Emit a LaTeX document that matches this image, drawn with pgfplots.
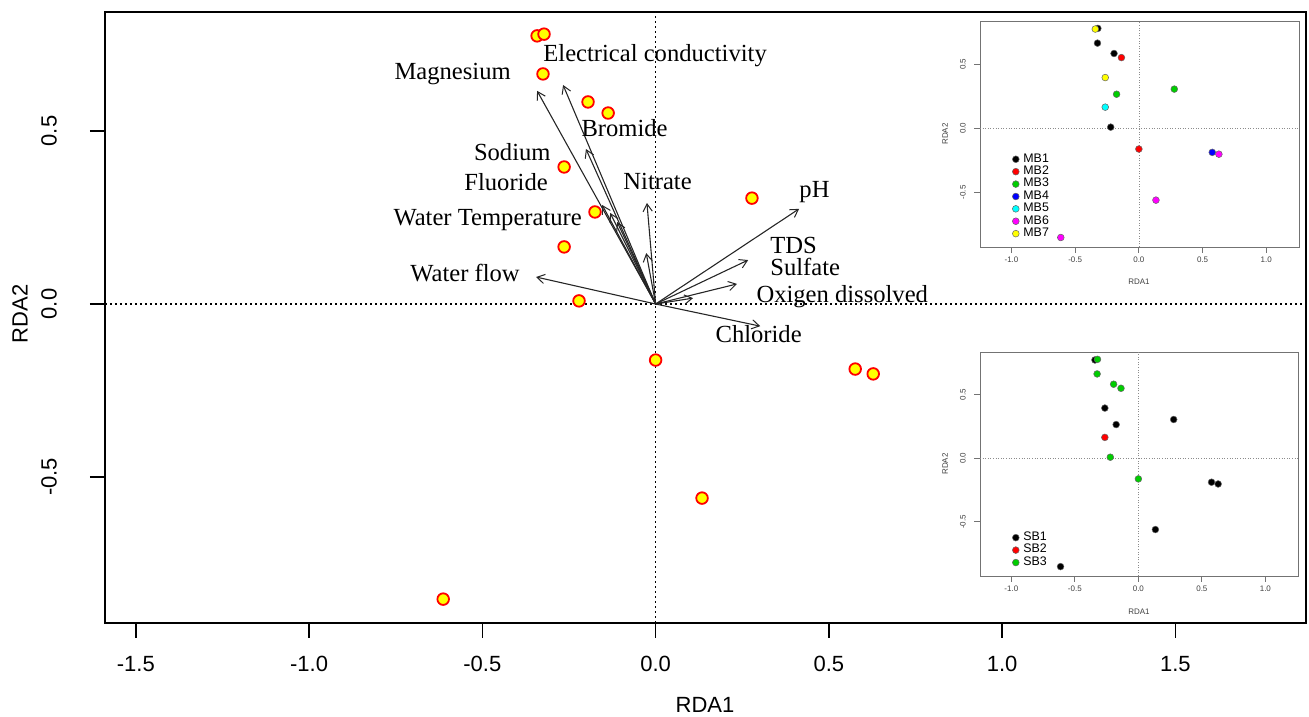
\documentclass[border=0pt]{standalone}
\usepackage{fontspec}
\setmainfont{Liberation Serif}
\newfontfamily\arialf{Liberation Sans}
\usepackage{pgfplots}
\pgfplotsset{compat=1.18}
\usetikzlibrary{arrows.meta}
\definecolor{rgreen}{RGB}{0,205,0}
\definecolor{rred}{RGB}{255,0,0}
\definecolor{rblue}{RGB}{0,0,255}
\definecolor{rcyan}{RGB}{0,255,255}
\definecolor{rmagenta}{RGB}{255,0,255}
\definecolor{ryellow}{RGB}{255,255,0}

\tikzset{lab/.style={font=\fontsize{12.3}{14}\selectfont,inner sep=0pt}}
\pgfplotsset{
  rnum/.style={/pgf/number format/fixed,/pgf/number format/fixed zerofill,
    /pgf/number format/precision=1,/pgf/number format/assume math mode=true},
  arr/.style={black!85,line width=0.55pt,
    -{Straight Barb[length=3.8pt,width=4.6pt,line width=0.5pt]}},
  inset/.style={scale only axis,anchor=south west,
    xmin=-1.247,xmax=1.257,ymin=-0.927,ymax=0.838,
    axis line style={black!55,line width=0.4pt},
    tick pos=left,tick align=outside,major tick length=3pt,
    every tick/.style={black!55,line width=0.4pt},
    xtick={-1,-0.5,0,0.5,1},ytick={-0.5,0,0.5},
    tick label style={font=\arialf\fontsize{4}{5}\selectfont,rnum,inner sep=0.5pt,text=black!75},
    xticklabel shift=1.5pt,
    yticklabel style={rotate=90,anchor=south},
    yticklabel shift=3.5pt,
    legend style={draw=none,fill=none,inner sep=0pt,
      font=\arialf\fontsize{6.2}{6.2}\selectfont,
      at={(axis description cs:0,0)},anchor=south west,xshift=16pt,yshift=3pt,
      nodes={inner sep=0.6pt},row sep=-0.8pt,column sep=1.5pt},
    legend cell align=left,
    legend image code/.code={\draw[##1] plot coordinates {(0pt,0pt)};},
  },
  ipt/.style={only marks,mark=*,mark size=1.7pt,
    mark options={draw=black!60,line width=0.25pt,fill=#1}},
}

\begin{document}
\begin{tikzpicture}
\useasboundingbox (-52.5pt,-46.5pt) rectangle (602pt,311.5pt);

% main RDA biplot
\begin{axis}[
  at={(0pt,0pt)},anchor=south west,scale only axis,
  width=600.5pt,height=305.5pt,
  xmin=-1.589,xmax=1.877,ymin=-0.922,ymax=0.844,
  axis line style={line width=0.8pt},
  tick pos=left,tick align=outside,major tick length=7.5pt,
  every tick/.style={black,line width=0.8pt},
  xtick={-1.5,-1,-0.5,0,0.5,1,1.5},ytick={-0.5,0,0.5},
  tick label style={font=\arialf\fontsize{11}{13}\selectfont,rnum},
  xticklabel shift=5.5pt,
  yticklabel style={rotate=90,anchor=south},
  yticklabel shift=13pt,
  clip=false,
]
\addplot[black,line width=0.8pt,dash pattern=on 0.9pt off 1.6pt] coordinates {(0,-0.922) (0,0.844)};
\addplot[black,line width=0.8pt,dash pattern=on 0.9pt off 1.6pt] coordinates {(-1.589,0) (1.877,0)};

% environmental arrows
\addplot[arr] coordinates {(0,0) (-0.342,0.616)};
\addplot[arr] coordinates {(0,0) (-0.267,0.633)};
\addplot[arr] coordinates {(0,0) (-0.201,0.448)};
\addplot[arr] coordinates {(0,0) (-0.154,0.286)};
\addplot[arr] coordinates {(0,0) (-0.131,0.263)};
\addplot[arr] coordinates {(0,0) (-0.111,0.237)};
\addplot[arr] coordinates {(0,0) (-0.025,0.292)};
\addplot[arr] coordinates {(0,0) (-0.027,0.147)};
\addplot[arr] coordinates {(0,0) (-0.345,0.078)};
\addplot[arr] coordinates {(0,0) (0.414,0.275)};
\addplot[arr] coordinates {(0,0) (0.267,0.127)};
\addplot[arr] coordinates {(0,0) (0.235,0.058)};
\addplot[arr] coordinates {(0,0) (0.108,0.017)};
\addplot[arr] coordinates {(0,0) (0.302,-0.064)};

% sites
\addplot[only marks,mark=*,mark size=2.9pt,mark options={fill=ryellow,draw=rred,line width=0.9pt}]
  coordinates {(-0.342,0.775) (-0.322,0.780) (-0.325,0.665) (-0.195,0.584) (-0.137,0.552)
  (-0.264,0.396) (-0.175,0.266) (0.278,0.306) (-0.264,0.165) (-0.221,0.009)
  (0,-0.162) (0.576,-0.188) (0.628,-0.202) (0.134,-0.561) (-0.613,-0.853)};

\node[lab,anchor=base west] at (axis cs:-0.325,0.700) {Electrical conductivity};
\node[lab,anchor=base east] at (axis cs:-0.417,0.648) {Magnesium};
\node[lab,anchor=base west] at (axis cs:-0.215,0.483) {Bromide};
\node[lab,anchor=base east] at (axis cs:-0.302,0.416) {Sodium};
\node[lab,anchor=base east] at (axis cs:-0.310,0.327) {Fluoride};
\node[lab,anchor=base west] at (axis cs:-0.094,0.330) {Nitrate};
\node[lab,anchor=base east] at (axis cs:-0.212,0.226) {Water Temperature};
\node[lab,anchor=base west] at (axis cs:0.414,0.309) {pH};
\node[lab,anchor=base west] at (axis cs:0.330,0.145) {TDS};
\node[lab,anchor=base west] at (axis cs:0.330,0.081) {Sulfate};
\node[lab,anchor=base west] at (axis cs:0.290,0.003) {Oxigen dissolved};
\node[lab,anchor=base west] at (axis cs:0.172,-0.112) {Chloride};
\node[lab,anchor=base east] at (axis cs:-0.391,0.064) {Water flow};
\end{axis}

% inset: MB groups
\begin{axis}[inset,at={(437.5pt,188pt)},width=159.5pt,height=113pt]
\addplot[black!45,line width=0.3pt,dash pattern=on 0.5pt off 0.8pt,forget plot] coordinates {(0,-0.927) (0,0.838)};
\addplot[black!45,line width=0.3pt,dash pattern=on 0.5pt off 0.8pt,forget plot] coordinates {(-1.247,0) (1.257,0)};
\addplot[ipt=black] coordinates {(-0.322,0.780) (-0.325,0.665) (-0.195,0.584) (-0.221,0.009)};
\addlegendentry{MB1}
\addplot[ipt=rred] coordinates {(-0.137,0.552) (0,-0.162)};
\addlegendentry{MB2}
\addplot[ipt=rgreen] coordinates {(-0.175,0.266) (0.278,0.306)};
\addlegendentry{MB3}
\addplot[ipt=rblue] coordinates {(0.576,-0.188)};
\addlegendentry{MB4}
\addplot[ipt=rcyan] coordinates {(-0.264,0.165)};
\addlegendentry{MB5}
\addplot[ipt=rmagenta] coordinates {(0.628,-0.202) (0.134,-0.561) (-0.613,-0.853)};
\addlegendentry{MB6}
\addplot[ipt=ryellow] coordinates {(-0.342,0.775) (-0.264,0.396)};
\addlegendentry{MB7}
\end{axis}

% inset: SB groups
\begin{axis}[inset,at={(437.5pt,23.5pt)},width=159pt,height=112pt]
\addplot[black!45,line width=0.3pt,dash pattern=on 0.5pt off 0.8pt,forget plot] coordinates {(0,-0.927) (0,0.838)};
\addplot[black!45,line width=0.3pt,dash pattern=on 0.5pt off 0.8pt,forget plot] coordinates {(-1.247,0) (1.257,0)};
\addplot[ipt=black] coordinates {(-0.342,0.775) (-0.264,0.396) (-0.175,0.266) (0.278,0.306)
  (0.576,-0.188) (0.628,-0.202) (0.134,-0.561) (-0.613,-0.853)};
\addlegendentry{SB1}
\addplot[ipt=rred] coordinates {(-0.264,0.165)};
\addlegendentry{SB2}
\addplot[ipt=rgreen] coordinates {(-0.322,0.780) (-0.325,0.665) (-0.195,0.584) (-0.137,0.552)
  (-0.221,0.009) (0,-0.162)};
\addlegendentry{SB3}
\end{axis}

% axis titles
\node[font=\arialf\fontsize{11}{13}\selectfont] at (300pt,-41pt) {RDA1};
\node[font=\arialf\fontsize{11}{13}\selectfont,rotate=90] at (-42.5pt,154.5pt) {RDA2};
\node[font=\arialf\fontsize{4}{5}\selectfont,text=black!75] at (517pt,170.5pt) {RDA1};
\node[font=\arialf\fontsize{4}{5}\selectfont,text=black!75,rotate=90] at (420pt,244.5pt) {RDA2};
\node[font=\arialf\fontsize{4}{5}\selectfont,text=black!75] at (517pt,5.5pt) {RDA1};
\node[font=\arialf\fontsize{4}{5}\selectfont,text=black!75,rotate=90] at (420pt,79.5pt) {RDA2};
\end{tikzpicture}
\end{document}
